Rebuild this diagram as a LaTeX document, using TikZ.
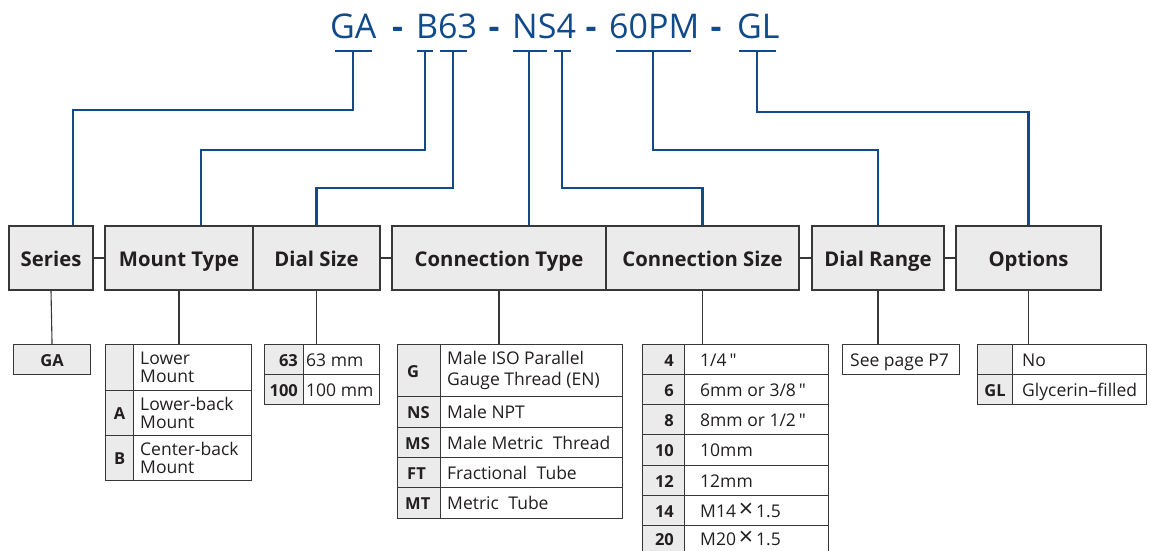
\documentclass[tikz,border=0pt]{standalone}
\usepackage{fontspec}
\setmainfont{Open Sans}
\usetikzlibrary{calc}
\definecolor{cblue}{RGB}{16,74,138}
\definecolor{cbord}{RGB}{55,55,55}
\definecolor{cgray}{RGB}{235,235,235}
\definecolor{ctext}{RGB}{35,31,32}
\newcommand\hdrfont{\fontsize{20.3}{22}\selectfont\bfseries}
\newcommand\valfont{\fontsize{17.5}{18.5}\selectfont}
\newcommand\keyfont{\fontsize{16.5}{18}\selectfont\bfseries}
\newcommand\ttlfont{\fontsize{34}{40}\selectfont}
\newcommand\tms{\,{\fontsize{25}{18}\selectfont ×}\,}
\newcommand\inch{\,\textquotedbl}
\newcommand\mkcell[6]{%
  \pgfmathsetmacro\cw{#5-#3}\pgfmathsetmacro\ch{#6-#4}%
  \node[cellbase,#1,minimum width=\cw pt,minimum height=\ch pt] (#2) at (#3,#4) {};}
\newcommand\lcell[8][]{\mkcell{#1}{#2}{#3}{#4}{#5}{#6}\node[celltext,#1,anchor=west] at ([xshift=#7pt]#2.west) {#8};}
\newcommand\rcell[8][]{\mkcell{#1}{#2}{#3}{#4}{#5}{#6}\node[celltext,#1,anchor=east] at ([xshift=-#7pt]#2.east) {#8};}
\newcommand\ccell[7][]{\mkcell{#1}{#2}{#3}{#4}{#5}{#6}\node[celltext,#1] at (#2.center) {#7};}
\tikzset{
  cellbase/.style={draw=cbord,line width=1.1pt,inner sep=0pt,anchor=north west,fill=white},
  celltext/.style={inner sep=0pt,text=ctext,font=\valfont,align=left,text height=16pt,text depth=3pt},
  ml/.style={text height=,text depth=},
  keycell/.style={fill=cgray,font=\keyfont},
  hdr/.style={draw=cbord,line width=1.1pt,fill=cgray,inner sep=0pt,text=ctext,font=\hdrfont,text height=20pt,text depth=4pt},
  ttl/.style={text=cblue,font=\ttlfont,inner sep=0pt,anchor=base west},
  dsh/.style={text=cblue,font=\ttlfont\bfseries,inner sep=0pt,anchor=base},
  conn/.style={draw=cblue,line width=2.2pt},
  stem/.style={draw=cbord,line width=1.1pt},
}
\begin{document}
\begin{tikzpicture}[x=1pt,y=-1pt]
\useasboundingbox (0,0) rectangle (1151,551);
% title
\node[ttl] (tGA) at (330,39) {GA};
\node[dsh] (d1) at (397.5,39) {-};
\node[ttl] (tB63) at (416,39) {B63};
\node[dsh] (d2) at (494,39) {-};
\node[ttl] (tNS4) at (512,39) {NS4};
\node[dsh] (d3) at (591,39) {-};
\node[ttl] (t60PM) at (609,39) {60PM};
\node[dsh] (d4) at (716,39) {-};
\node[ttl] (tGL) at (737,39) {GL};
% tick points
\coordinate (kGA) at (353,51);
\coordinate (kB) at (425,51);
\coordinate (k63) at (453,51);
\coordinate (kNS) at (529,51);
\coordinate (k4) at (562,51);
\coordinate (k60) at (653,51);
\coordinate (kGL) at (757,51);
% header boxes
\node[hdr,minimum width=84pt,minimum height=64pt] (series) at (51,258) {Series};
\node[hdr,minimum width=148pt,minimum height=64pt] (mount) at (179,258) {Mount Type};
\node[hdr,minimum width=127pt,minimum height=64pt] (dial) at (316.5,258) {Dial Size};
\node[hdr,minimum width=214pt,minimum height=64pt] (ctype) at (499,258) {Connection Type};
\node[hdr,minimum width=193pt,minimum height=64pt] (csize) at (702.5,258) {Connection Size};
\node[hdr,minimum width=132pt,minimum height=64pt] (drange) at (878,258) {Dial Range};
\node[hdr,minimum width=145pt,minimum height=64pt] (opts) at (1028.5,258) {Options};
\draw[stem] (series.east) -- (mount.west);
\draw[stem] (dial.east) -- (ctype.west);
\draw[stem] (csize.east) -- (drange.west);
\draw[stem] (drange.east) -- (opts.west);
% blue connectors
\draw[conn] ([xshift=-18pt]kGA) -- ([xshift=19pt]kGA);
\draw[conn] ([xshift=-8pt]kB) -- ([xshift=8pt]kB);
\draw[conn] ([xshift=-13pt]k63) -- ([xshift=14pt]k63);
\draw[conn] ([xshift=-16pt]kNS) -- ([xshift=18pt]kNS);
\draw[conn] ([xshift=-8pt]k4) -- ([xshift=9pt]k4);
\draw[conn] ([xshift=-37pt]k60) -- ([xshift=38pt]k60);
\draw[conn] ([xshift=-18pt]kGL) -- ([xshift=19pt]kGL);
\draw[conn] (kGA) -- ++(0,59) -| ([xshift=22pt]series.north);
\draw[conn] (kB) -- ++(0,99) -| ([xshift=22pt]mount.north);
\draw[conn] (k63) -- ++(0,137) -| (dial.north);
\draw[conn] (kNS) -- (kNS |- ctype.north);
\draw[conn] (k4) -- ++(0,137) -| (csize.north);
\draw[conn] (k60) -- ++(0,99) -| (drange.north);
\draw[conn] (kGL) -- ++(0,61) -| (opts.north);
% tables
\ccell[keycell]{ga}{13}{344}{90}{374}{GA}
\ccell[keycell]{m1k}{105}{344}{133}{390}{}
\lcell[ml]{m1v}{133}{344}{251}{390}{7}{Lower\\Mount}
\ccell[keycell]{m2k}{105}{390}{133}{435}{A}
\lcell[ml]{m2v}{133}{390}{251}{435}{7}{Lower-back\\Mount}
\ccell[keycell]{m3k}{105}{435}{133}{480}{B}
\lcell[ml]{m3v}{133}{435}{251}{480}{7}{Center-back\\Mount}
\rcell[keycell]{d1k}{264}{344}{303}{374}{6}{63}
\lcell{d1v}{303}{344}{379}{374}{3}{63 mm}
\rcell[keycell]{d2k}{264}{374}{303}{404}{6}{100}
\lcell{d2v}{303}{374}{379}{404}{3}{100 mm}
\lcell[keycell]{c1k}{397}{344}{440}{396}{10}{G}
\lcell[ml,font=\fontsize{17.5}{21.5}\selectfont]{c1v}{440}{344}{622}{396}{7}{Male ISO Parallel\\Gauge Thread (EN)}
\lcell[keycell]{c2k}{397}{396}{440}{427}{10}{NS}
\lcell{c2v}{440}{396}{622}{427}{7}{Male NPT}
\lcell[keycell]{c3k}{397}{427}{440}{457}{8}{MS}
\lcell{c3v}{440}{427}{622}{457}{7}{Male Metric\hspace{5pt} Thread}
\lcell[keycell]{c4k}{397}{457}{440}{487}{10}{FT}
\lcell{c4v}{440}{457}{622}{487}{7}{Fractional\hspace{5pt} Tube}
\lcell[keycell]{c5k}{397}{487}{440}{518}{8}{MT}
\lcell{c5v}{440}{487}{622}{518}{7}{Metric\hspace{5pt} Tube}
\rcell[keycell]{s1k}{642}{344}{684}{374}{11}{4}
\lcell{s1v}{684}{344}{828}{374}{16}{1/4\inch}
\rcell[keycell]{s2k}{642}{374}{684}{404}{11}{6}
\lcell{s2v}{684}{374}{828}{404}{16}{6mm or 3/8\inch}
\rcell[keycell]{s3k}{642}{404}{684}{434}{11}{8}
\lcell{s3v}{684}{404}{828}{434}{16}{8mm or 1/2\inch}
\rcell[keycell]{s4k}{642}{434}{684}{465}{11}{10}
\lcell{s4v}{684}{434}{828}{465}{16}{10mm}
\rcell[keycell]{s5k}{642}{465}{684}{495}{11}{12}
\lcell{s5v}{684}{465}{828}{495}{16}{12mm}
\rcell[keycell]{s6k}{642}{495}{684}{525}{11}{14}
\lcell{s6v}{684}{495}{828}{525}{16}{M14\tms1.5}
\rcell[keycell]{s7k}{642}{525}{684}{552}{11}{20}
\lcell{s7v}{684}{525}{828}{552}{16}{M20\tms1.5}
\lcell{sp}{842}{344}{959}{374}{8}{See page P7}
\ccell[keycell]{o1k}{977}{344}{1012}{374}{}
\lcell{o1v}{1012}{344}{1146}{374}{10}{No}
\ccell[keycell]{o2k}{977}{374}{1012}{404}{GL}
\lcell{o2v}{1012}{374}{1146}{404}{10}{Glycerin–filled}
% stems
\draw[stem] (series.south) -- (ga.north);
\draw[stem] (mount.south) -- (mount.south |- m1v.north);
\draw[stem] (dial.south) -- (dial.south |- d1v.north);
\draw[stem] (ctype.south) -- (ctype.south |- c1v.north);
\draw[stem] (csize.south) -- (csize.south |- s1v.north);
\draw[stem] (drange.south) -- (drange.south |- sp.north);
\draw[stem] (opts.south) -- (opts.south |- o1v.north);
\end{tikzpicture}
\end{document}
